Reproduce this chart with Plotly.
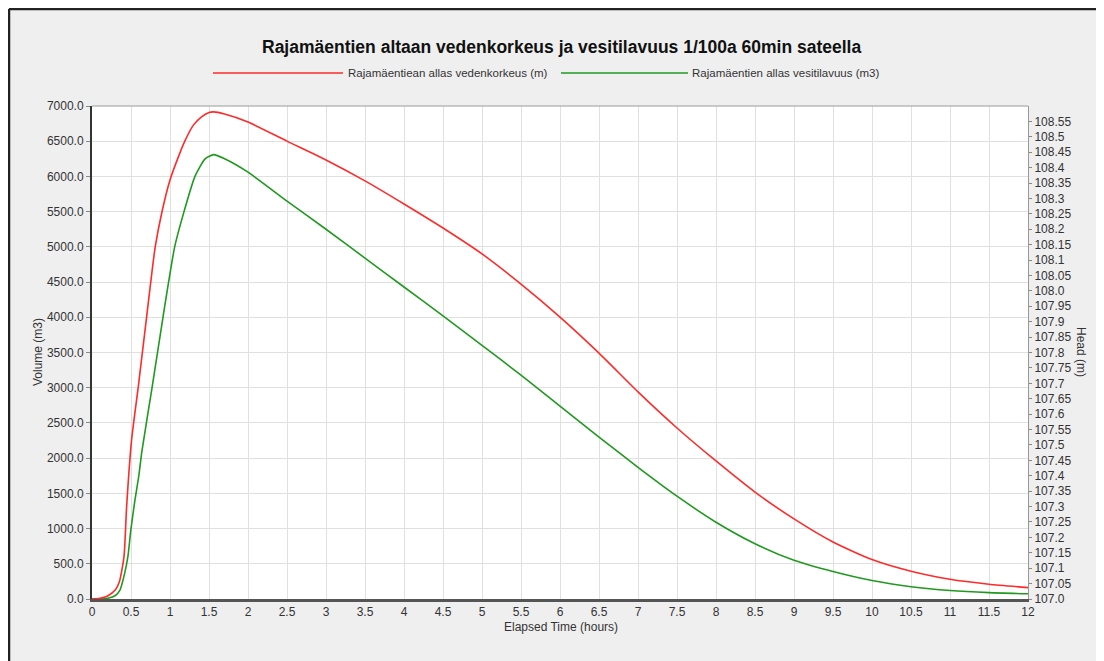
import plotly.graph_objects as go

# ---- data ----
t_head = [0, 0.1, 0.2, 0.3, 0.35, 0.41, 0.444, 0.508, 0.594, 0.7, 0.81, 0.9, 1.0, 1.1, 1.19, 1.3, 1.4,
          1.5, 1.56, 1.7, 2.0, 2.5, 3.0, 3.5, 4.0, 4.5, 5.0, 5.5, 6.0, 6.5, 7.0, 7.5, 8.0, 8.5, 9.0,
          9.5, 10.0, 10.5, 11.0, 11.5, 12.0]
head_m = [107.0, 107.002, 107.01, 107.03, 107.055, 107.137, 107.30, 107.517, 107.69, 107.915, 108.142,
          108.26, 108.36, 108.43, 108.486, 108.538, 108.564, 108.579, 108.581, 108.574, 108.548,
          108.486, 108.425, 108.357, 108.282, 108.204, 108.12, 108.022, 107.915, 107.798, 107.672,
          107.555, 107.448, 107.347, 107.26, 107.185, 107.128, 107.09, 107.064, 107.048, 107.037]

t_vol = [0, 0.1, 0.2, 0.3, 0.36, 0.42, 0.46, 0.5, 0.55, 0.6, 0.64, 0.77, 0.91, 1.06, 1.18, 1.32, 1.45,
         1.56, 1.7, 2.0, 2.5, 3.0, 3.5, 4.0, 4.5, 5.0, 5.5, 6.0, 6.5, 7.0, 7.5, 8.0, 8.5, 9.0, 9.5,
         10.0, 10.5, 11.0, 11.5, 12.0]
volume_m3 = [0, 0, 10, 50, 130, 370, 600, 1000, 1400, 1750, 2100, 3000, 4000, 5000, 5500, 6000, 6250,
             6310, 6250, 6060, 5650, 5250, 4840, 4430, 4020, 3600, 3180, 2740, 2300, 1870, 1460, 1090,
             785, 550, 390, 262, 175, 120, 90, 75]

head_tick_labels = ["107.0", "107.05", "107.1", "107.15", "107.2", "107.25", "107.3", "107.35",
                    "107.4", "107.45", "107.5", "107.55", "107.6", "107.65", "107.7", "107.75",
                    "107.8", "107.85", "107.9", "107.95", "108.0", "108.05", "108.1", "108.15",
                    "108.2", "108.25", "108.3", "108.35", "108.4", "108.45", "108.5", "108.55"]

title_text = "Rajamäentien altaan vedenkorkeus ja vesitilavuus 1/100a 60min sateella"
name_head = "Rajamäentiean allas vedenkorkeus (m)"
name_vol = "Rajamäentien allas vesitilavuus (m3)"

RED = "#ff2a2a"
GREEN = "#1f9a1f"
FONT = "Liberation Sans, Arial, sans-serif"
TXT = "#333333"

fig = go.Figure()
fig.add_trace(go.Scatter(x=t_head, y=head_m, mode="lines", name=name_head, yaxis="y2",
                         line=dict(color=RED, width=1.6, shape="spline", smoothing=0.6)))
fig.add_trace(go.Scatter(x=t_vol, y=volume_m3, mode="lines", name=name_vol,
                         line=dict(color=GREEN, width=1.6, shape="spline", smoothing=0.6)))

# page is rendered with an 8px body margin; layout is expressed in page pixels
OFF = 8
W, H = 1104, 661
PL, PR, PT, PB = 92, 1028, 106, 599          # plot area in page pixels
L, T = PL - OFF, PT - OFF
R, B = W - (PR - OFF), H - (PB - OFF)
pw, ph = PR - PL, PB - PT


def px(x):
    return (x - PL) / pw


def py(y):
    return (PB - y) / ph


shapes = [
    # frame
    dict(type="line", xref="paper", yref="paper", x0=px(9), x1=px(1300), y0=py(9), y1=py(9),
         line=dict(color="#222222", width=2.5), layer="above"),
    dict(type="line", xref="paper", yref="paper", x0=px(9), x1=px(9), y0=py(9), y1=py(900),
         line=dict(color="#222222", width=2.5), layer="above"),
    # top border of plot area
    dict(type="line", xref="paper", yref="paper", x0=0, x1=1, y0=1, y1=1,
         line=dict(color="#9a9a9a", width=1)),
    # legend line samples
    dict(type="line", xref="paper", yref="paper", x0=px(213), x1=px(343), y0=py(73), y1=py(73),
         line=dict(color=RED, width=1.6)),
    dict(type="line", xref="paper", yref="paper", x0=px(561), x1=px(688), y0=py(73), y1=py(73),
         line=dict(color=GREEN, width=1.6)),
]

annotations = [
    dict(text="<b>" + title_text + "</b>", xref="paper", yref="paper", x=px(561), y=py(47),
         showarrow=False, font=dict(size=17.5, color="#111111", family=FONT), xanchor="center",
         yanchor="middle"),
    dict(text=name_head, xref="paper", yref="paper", x=px(346), y=py(73), showarrow=False,
         font=dict(size=11.5, color=TXT, family=FONT), xanchor="left", yanchor="middle"),
    dict(text=name_vol, xref="paper", yref="paper", x=px(690), y=py(73), showarrow=False,
         font=dict(size=11.5, color=TXT, family=FONT), xanchor="left", yanchor="middle"),
    dict(text="Volume (m3)", xref="paper", yref="paper", x=px(38), y=py(352), showarrow=False,
         textangle=-90, font=dict(size=12, color=TXT, family=FONT), xanchor="center",
         yanchor="middle"),
    dict(text="Head (m)", xref="paper", yref="paper", x=px(1081), y=py(352), showarrow=False,
         textangle=90, font=dict(size=12, color=TXT, family=FONT), xanchor="center",
         yanchor="middle"),
    dict(text="Elapsed Time (hours)", xref="paper", yref="paper", x=px(561), y=py(627),
         showarrow=False, font=dict(size=12, color=TXT, family=FONT), xanchor="center",
         yanchor="middle"),
]

fig.update_layout(
    width=W, height=H,
    margin=dict(l=L, r=R, t=T, b=B, autoexpand=False),
    paper_bgcolor="#efefef",
    plot_bgcolor="white",
    showlegend=False,
    font=dict(family=FONT, size=12, color=TXT),
    xaxis=dict(range=[0, 12], tick0=0, dtick=0.5, showgrid=True, gridcolor="#e0e0e0", gridwidth=1,
               showline=True, linecolor="#555555", linewidth=3, ticks="", zeroline=False,
               tickfont=dict(size=12, color=TXT)),
    yaxis=dict(range=[0, 7000], tick0=0, dtick=500, tickformat=".1f", showgrid=True,
               gridcolor="#e0e0e0", gridwidth=1, showline=True, linecolor="#333333", linewidth=2,
               ticks="outside", ticklen=4, tickcolor="#888888", zeroline=False,
               tickfont=dict(size=12, color=TXT)),
    yaxis2=dict(range=[107.0, 108.6], overlaying="y", side="right",
                tickvals=[float(s) for s in head_tick_labels], ticktext=head_tick_labels,
                showgrid=False, showline=True, linecolor="#999999", linewidth=1, ticks="outside",
                ticklen=3, tickcolor="#888888", zeroline=False, tickfont=dict(size=12, color=TXT)),
    shapes=shapes,
    annotations=annotations,
)

fig.write_html("out.html")
